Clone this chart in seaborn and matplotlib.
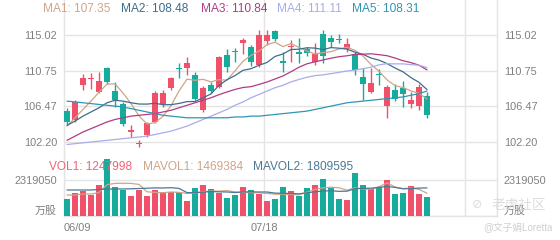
import matplotlib
matplotlib.use("Agg")
import matplotlib.pyplot as plt
import numpy as np
import pandas as pd
import seaborn as sns

# ---------------- data ----------------
x_labels = ["06/09", "07/18", ""]
price_ticks = [115.02, 110.75, 106.47, 102.20]
price_tick_labels = ["115.02", "110.75", "106.47", "102.20"]
vol_tick = 2319050
vol_tick_label = "2319050"
vol_unit = "万股"

opens = [105.92, 104.84, 109.03, 109.75, 108.23, 111.10, 108.31, 106.72, 103.44, 102.00,
         103.04, 104.64, 106.72, 108.71, 111.00, 111.10, 110.23, 106.04, 109.03, 108.83,
         112.62, 113.08, 114.02, 113.62, 111.43, 114.30, 115.50, 111.94, 113.62, 113.02,
         113.31, 111.75, 115.10, 114.70, 114.46, 113.34, 112.71, 110.03, 108.23, 110.30,
         106.55, 108.43, 108.64, 106.76, 106.55, 107.71]
highs = [106.24, 107.24, 110.31, 110.43, 110.63, 111.15, 109.43, 106.96, 104.24, 102.45,
         104.64, 108.31, 108.43, 110.03, 111.63, 112.35, 110.55, 108.91, 109.43, 112.50,
         113.34, 113.42, 114.70, 113.82, 115.62, 115.62, 115.62, 113.02, 114.42, 114.62,
         113.62, 114.02, 115.62, 115.02, 115.10, 114.62, 113.02, 111.03, 111.10, 110.95,
         109.03, 109.12, 109.51, 108.23, 109.12, 108.23]
lows = [104.24, 104.64, 108.43, 108.55, 108.04, 109.12, 106.44, 104.12, 102.84, 101.65,
        102.84, 104.50, 106.44, 108.43, 109.91, 110.23, 107.24, 105.84, 108.03, 108.64,
        110.63, 111.82, 112.71, 111.30, 111.22, 113.82, 114.30, 110.63, 111.75, 111.63,
        112.55, 111.43, 111.63, 113.62, 114.02, 113.02, 110.23, 107.24, 108.04, 109.03,
        105.04, 107.12, 106.44, 106.24, 106.04, 105.12]
closes = [104.57, 107.03, 109.83, 109.91, 109.51, 109.36, 107.24, 104.32, 103.60, 102.10,
          104.52, 108.04, 108.11, 109.91, 110.95, 111.63, 107.36, 108.71, 108.35, 112.35,
          111.22, 113.02, 114.42, 111.82, 115.02, 115.02, 114.54, 111.70, 113.70, 112.71,
          112.90, 112.71, 112.54, 114.22, 114.40, 113.90, 110.83, 109.12, 109.24, 110.25,
          108.83, 107.36, 107.92, 107.24, 108.83, 105.44]

ma1 = [104.1, 105.1, 106.1, 107.1, 108.17, 109.13, 109.17, 108.07, 106.81, 105.32,
       104.36, 104.52, 105.27, 106.54, 108.31, 109.73, 109.59, 109.71, 109.40, 109.68,
       109.60, 110.73, 111.87, 112.57, 113.10, 113.86, 114.16, 113.62, 114.00, 113.53,
       113.11, 112.74, 112.91, 113.02, 113.35, 113.55, 113.18, 112.49, 111.50, 110.67,
       109.65, 108.96, 108.72, 108.32, 108.04, 107.35]
ma2 = [104.2, 104.7, 105.3, 105.8, 106.3, 106.9, 107.2, 107.1, 106.9, 106.75,
       106.74, 106.84, 106.67, 106.67, 106.82, 107.04, 107.05, 107.49, 107.97, 108.99,
       109.66, 110.16, 110.79, 110.98, 111.39, 111.73, 112.45, 112.75, 113.28, 113.32,
       113.49, 113.45, 113.27, 113.51, 113.44, 113.33, 112.96, 112.70, 112.26, 112.01,
       111.60, 111.07, 110.61, 109.91, 109.35, 108.48]
ma3 = [102.4, 102.9, 103.4, 103.8, 104.2, 104.6, 104.9, 105.1, 105.3, 105.4,
       105.5, 105.6, 105.8, 106.0, 106.3, 106.6, 106.9, 107.2, 107.5, 107.87,
       108.20, 108.50, 108.73, 108.83, 109.10, 109.39, 109.75, 110.12, 110.62, 111.16,
       111.57, 111.81, 112.03, 112.24, 112.42, 112.53, 112.70, 112.72, 112.77, 112.66,
       112.54, 112.26, 111.94, 111.71, 111.40, 110.84]
ma4 = [101.9, 102.0, 102.1, 102.2, 102.3, 102.4, 102.5, 102.6, 102.7, 102.8,
       102.9, 103.1, 103.3, 103.5, 103.8, 104.1, 104.5, 104.9, 105.3, 105.7,
       106.1, 106.6, 107.0, 107.5, 107.9, 108.3, 108.7, 109.0, 109.4, 109.69,
       109.96, 110.15, 110.24, 110.39, 110.55, 110.70, 110.82, 110.98, 111.17, 111.44,
       111.58, 111.56, 111.56, 111.47, 111.40, 111.11]
ma5 = [107.1, 107.0, 106.9, 106.8, 106.7, 106.6, 106.5, 106.4, 106.2, 106.0,
       105.8, 105.6, 105.4, 105.3, 105.2, 105.1, 105.1, 105.1, 105.1, 105.1,
       105.1, 105.2, 105.2, 105.3, 105.3, 105.4, 105.5, 105.6, 105.7, 105.8,
       105.9, 106.1, 106.3, 106.5, 106.7, 106.9, 107.0, 107.1, 107.2, 107.3,
       107.4, 107.5, 107.6, 107.8, 108.0, 108.31]

volumes = [1095000, 1481000, 1610000, 1352000, 1996000, 3671000, 1868000, 1674000, 1288000, 1674000,
           1288000, 1674000, 1546000, 1546000, 1546000, 966000, 1803000, 1996000, 1739000, 1481000,
           1159000, 1352000, 1868000, 1674000, 1417000, 966000, 1095000, 1868000, 1610000, 1288000,
           1803000, 1996000, 2383000, 1803000, 1095000, 1030000, 2769000, 1996000, 1739000, 1868000,
           2318000, 1417000, 1481000, 1932000, 1417000, 1247998]
mavol1 = [1352000, 1352000, 1417000, 1417000, 1507000, 2022000, 2099000, 2112000, 2099000, 2035000,
          1558000, 1520000, 1494000, 1546000, 1520000, 1455000, 1481000, 1571000, 1610000, 1597000,
          1636000, 1546000, 1520000, 1507000, 1494000, 1455000, 1404000, 1404000, 1391000, 1365000,
          1533000, 1713000, 1816000, 1855000, 1816000, 1662000, 1816000, 1739000, 1726000, 1880000,
          2138000, 1868000, 1765000, 1803000, 1713000, 1469384]
mavol2 = [1674000, 1674000, 1674000, 1674000, 1707000, 1739000, 1739000, 1739000, 1752000, 1771000,
          1790000, 1810000, 1803000, 1823000, 1777000, 1507000, 1501000, 1533000, 1578000, 1558000,
          1546000, 1513000, 1546000, 1558000, 1546000, 1546000, 1475000, 1462000, 1449000, 1430000,
          1494000, 1558000, 1610000, 1623000, 1591000, 1597000, 1765000, 1777000, 1790000, 1848000,
          1900000, 1842000, 1752000, 1765000, 1797000, 1809595]

ma_names = ["MA1", "MA2", "MA3", "MA4", "MA5"]
vol_names = ["VOL1", "MAVOL1", "MAVOL2"]
watermark_logo = "老虎社区"
watermark_user = "@文子娟Loretta"

# ---------------- style ----------------
sns.set_theme(style="white")
plt.rcParams["font.family"] = ["Liberation Sans", "Noto Sans CJK SC", "DejaVu Sans"]

UP = "#f0506a"
DOWN = "#17ab9c"
MA_COLORS = ["#cfa488", "#3e6d8c", "#b23b84", "#a9acea", "#2f97b3"]
VOL_COLORS = ["#ee6477", "#cfa488", "#4d7894"]
GRID = "#e4e4e4"
TXT = "#808080"

W, H = 560, 240
fig = plt.figure(figsize=(W / 100, H / 100), dpi=100)
fig.patch.set_facecolor("white")


def rect(x0, y0, x1, y1):
    return [x0 / W, 1 - y1 / H, (x1 - x0) / W, (y1 - y0) / H]


n = len(closes)
idx = np.arange(n)
XMIN, XMAX = -0.375, 53.75
vgrid = [24.625, 49.75]

df = pd.DataFrame({"idx": idx, "open": opens, "high": highs, "low": lows, "close": closes,
                   "MA1": ma1, "MA2": ma2, "MA3": ma3, "MA4": ma4, "MA5": ma5,
                   "vol": volumes, "MAVOL1": mavol1, "MAVOL2": mavol2})
up = df["close"] >= df["open"]
colors = np.where(up, UP, DOWN)

# ---------------- price panel ----------------
ax = fig.add_axes(rect(64, 0, 497, 150))
ppx = (115.02 - 102.20) / (142 - 35)
ax.set_xlim(XMIN, XMAX)
ax.set_ylim(115.02 - (150 - 35) * ppx, 115.02 + 35 * ppx)

ax.vlines(df["idx"], df["low"], df["high"], colors=colors, linewidth=1.0, zorder=3)
body_lo = np.minimum(df["open"], df["close"])
body_h = np.maximum(np.abs(df["close"] - df["open"]), 0.1)
ax.bar(df["idx"], body_h, bottom=body_lo, width=0.72, color=colors, linewidth=0, zorder=3)

for name, c in zip(ma_names, MA_COLORS):
    sns.lineplot(data=df, x="idx", y=name, ax=ax, color=c, linewidth=0.9,
                 estimator=None, legend=False, zorder=4)

ax.set_yticks(price_ticks)
ax.set_yticklabels(price_tick_labels)
ax.set_xticks(vgrid)
ax.set_xticklabels([])
ax.grid(True, color=GRID, linewidth=1.0)
ax.tick_params(axis="y", length=0, pad=5, labelsize=7.9, labelcolor=TXT,
               labelleft=True, labelright=True)
ax.tick_params(axis="x", length=0)
ax.set_xlabel("")
ax.set_ylabel("")
for s in ["top", "bottom"]:
    ax.spines[s].set_visible(False)
for s in ["left", "right"]:
    ax.spines[s].set_color(GRID)
    ax.spines[s].set_linewidth(1.0)

# ---------------- volume panel ----------------
axv = fig.add_axes(rect(64, 150, 497, 216))
axv.set_xlim(XMIN, XMAX)
axv.set_ylim(0, 66 * 64400)
axv.bar(df["idx"], df["vol"], width=0.78, color=colors, linewidth=0, zorder=3)
sns.lineplot(data=df, x="idx", y="MAVOL1", ax=axv, color=VOL_COLORS[1], linewidth=0.9,
             estimator=None, legend=False, zorder=4)
sns.lineplot(data=df, x="idx", y="MAVOL2", ax=axv, color=VOL_COLORS[2], linewidth=0.9,
             estimator=None, legend=False, zorder=4)
axv.set_yticks([0, vol_tick])
axv.set_yticklabels([vol_unit, vol_tick_label])
axv.set_xticks([XMIN] + vgrid)
axv.set_xticklabels(x_labels)
axv.grid(True, color=GRID, linewidth=1.0)
axv.tick_params(axis="y", length=0, pad=5, labelsize=7.9, labelcolor=TXT,
                labelleft=True, labelright=True)
axv.tick_params(axis="x", length=0, pad=5, labelsize=7.9, labelcolor=TXT)
tl = axv.get_xticklabels()
tl[0].set_horizontalalignment("left")
for t in axv.get_yticklabels():
    if t.get_text() == vol_unit:
        t.set_verticalalignment("bottom")
axv.set_xlabel("")
axv.set_ylabel("")
axv.spines["top"].set_visible(False)
for s in ["left", "right", "bottom"]:
    axv.spines[s].set_color(GRID)
    axv.spines[s].set_linewidth(1.0)

# ---------------- legends ----------------
ma_last = [ma1[-1], ma2[-1], ma3[-1], ma4[-1], ma5[-1]]
ma_x = [43, 121, 201, 277, 352]
for name, val, c, xp in zip(ma_names, ma_last, MA_COLORS, ma_x):
    fig.text(xp / W, 1 - 9.5 / H, f"{name}: {val:.2f}", color=c, fontsize=8.6,
             ha="left", va="center")

vol_last = [volumes[-1], mavol1[-1], mavol2[-1]]
vol_x = [49, 143, 253]
for name, val, c, xp in zip(vol_names, vol_last, VOL_COLORS, vol_x):
    fig.text(xp / W, 1 - 166.5 / H, f"{name}: {val}", color=c, fontsize=8.6,
             ha="left", va="center")

# watermark
fig.text(477 / W, 1 - 205 / H, "\u2298", color="#dddddd", fontsize=9,
         ha="center", va="center", family=["DejaVu Sans"])
fig.text(519 / W, 1 - 205 / H, watermark_logo, color="#dddddd", fontsize=9.8,
         ha="center", va="center")
fig.text(518 / W, 1 - 228 / H, watermark_user, color="#cfcfcf", fontsize=7.0,
         ha="center", va="center")

fig.savefig("out.png", dpi=100)
